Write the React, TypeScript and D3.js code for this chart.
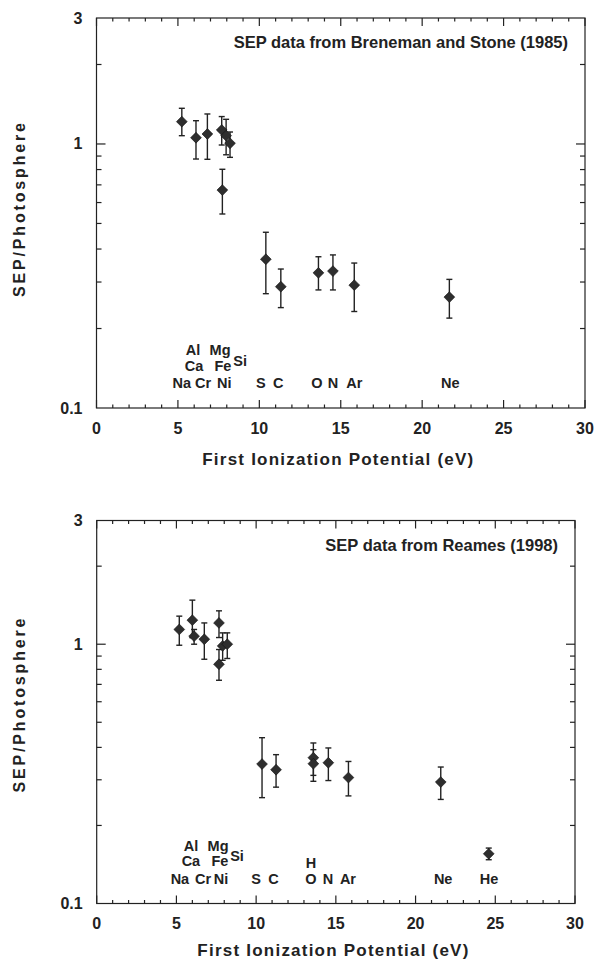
import React from "react";
import * as d3 from "d3";

// ---------- Data: Breneman & Stone (1985) ----------
const bsElements = ["Na", "Ca", "Cr", "Mg", "Fe", "Si", "Ni", "S", "C", "O", "N", "Ar", "Ne"];
const bsFip = [5.24, 6.11, 6.81, 7.69, 7.96, 8.2, 7.73, 10.4, 11.32, 13.63, 14.52, 15.83, 21.67];
const bsRatio = [1.215, 1.056, 1.091, 1.13, 1.075, 1.006, 0.669, 0.366, 0.288, 0.325, 0.33, 0.292, 0.263];
const bsLow = [1.075, 0.877, 0.875, 0.991, 0.91, 0.89, 0.543, 0.271, 0.24, 0.28, 0.28, 0.232, 0.219];
const bsHigh = [1.365, 1.225, 1.299, 1.27, 1.24, 1.11, 0.802, 0.463, 0.336, 0.374, 0.38, 0.354, 0.307];

// element annotations (name, FIP position, row)
const bsLabelNames = ["Al", "Mg", "Ca", "Fe", "Si", "Na", "Cr", "Ni", "S", "C", "O", "N", "Ar", "Ne"];
const bsLabelFip = [5.93, 7.59, 5.99, 7.76, 8.82, 5.24, 6.55, 7.84, 10.09, 11.16, 13.53, 14.52, 15.83, 21.73];
const bsLabelRow = [2, 2, 1, 1, 3, 0, 0, 0, 0, 0, 0, 0, 0, 0];

// ---------- Data: Reames (1998) ----------
const rmElements = ["Na", "Al", "Ca", "Cr", "Mg", "Ni", "Fe", "Si", "S", "C", "H", "O", "N", "Ar", "Ne", "He"];
const rmFip = [5.18, 6.0, 6.11, 6.75, 7.67, 7.67, 7.9, 8.19, 10.37, 11.25, 13.59, 13.59, 14.53, 15.79, 21.58, 24.59];
const rmRatio = [1.14, 1.238, 1.074, 1.045, 1.208, 0.837, 0.985, 1.0, 0.345, 0.328, 0.365, 0.346, 0.349, 0.306, 0.294, 0.1555];
const rmLow = [0.991, 1.06, 1.0, 0.875, 1.061, 0.726, 0.867, 0.881, 0.256, 0.281, 0.312, 0.296, 0.298, 0.26, 0.252, 0.1475];
const rmHigh = [1.283, 1.479, 1.14, 1.208, 1.345, 0.954, 1.106, 1.106, 0.436, 0.375, 0.416, 0.392, 0.398, 0.353, 0.336, 0.1636];

const rmLabelNames = ["Al", "Mg", "Ca", "Fe", "Si", "H", "Na", "Cr", "Ni", "S", "C", "O", "N", "Ar", "Ne", "He"];
const rmLabelFip = [5.91, 7.61, 5.91, 7.73, 8.8, 13.44, 5.22, 6.67, 7.8, 10.0, 11.09, 13.44, 14.51, 15.76, 21.73, 24.61];
const rmLabelRow = [2, 2, 1, 1, 3, 4, 0, 0, 0, 0, 0, 0, 0, 0, 0, 0];

// ---------- Axes ----------
const xDomain = [0, 30];
const yDomain = [0.1, 3];
const xMajorTicks = [0, 5, 10, 15, 20, 25, 30];
const xMinorTicks = d3.range(1, 30).filter((v) => v % 5 !== 0);
const yMajorTicks = [1];
const yMinorTicks = [0.2, 0.3, 0.4, 0.5, 0.6, 0.7, 0.8, 0.9, 2];
const yTickLabels = [
  { v: 3, t: "3" },
  { v: 1, t: "1" },
  { v: 0.1, t: "0.1" },
];

const titles = ["SEP data from Breneman and Stone (1985)", "SEP data from Reames (1998)"];
const xTitle = "First Ionization Potential (eV)";
const yTitle = "SEP/Photosphere";

const FONT = "'Liberation Sans', Arial, Helvetica, sans-serif";
const INK = "#222";
const MARK = "#2e2e2e";

// row pixel offsets above the bottom axis
const rowOffsets = [25, 42.5, 58, 47.5, 41];

type PanelProps = {
  box: { left: number; right: number; top: number; bottom: number };
  title: string;
  fip: number[];
  ratio: number[];
  low: number[];
  high: number[];
  labelNames: string[];
  labelFip: number[];
  labelRow: number[];
  xTitleOffset: number;
};

function Panel(p: PanelProps) {
  const { left, right, top, bottom } = p.box;
  const x = d3.scaleLinear().domain(xDomain).range([left, right]);
  const y = d3.scaleLog().domain(yDomain).range([bottom, top]);
  const diamond = (cx: number, cy: number, r: number) =>
    `M${cx},${cy - r}L${cx + r},${cy}L${cx},${cy + r}L${cx - r},${cy}Z`;
  const cap = 3;
  return (
    <g>
      {/* frame */}
      <rect x={left} y={top} width={right - left} height={bottom - top} fill="none" stroke={INK} strokeWidth={1.2} />
      {/* x ticks */}
      {xMajorTicks.map((v) => (
        <g key={"xM" + v}>
          <line x1={x(v)} x2={x(v)} y1={bottom} y2={bottom - 8} stroke={INK} strokeWidth={1.2} />
          <line x1={x(v)} x2={x(v)} y1={top} y2={top + 8} stroke={INK} strokeWidth={1.2} />
        </g>
      ))}
      {xMinorTicks.map((v) => (
        <g key={"xm" + v}>
          <line x1={x(v)} x2={x(v)} y1={bottom} y2={bottom - 3.5} stroke={INK} strokeWidth={1.2} />
          <line x1={x(v)} x2={x(v)} y1={top} y2={top + 3.5} stroke={INK} strokeWidth={1.2} />
        </g>
      ))}
      {/* y ticks */}
      {yMajorTicks.map((v) => (
        <g key={"yM" + v}>
          <line x1={left} x2={left + 9} y1={y(v)} y2={y(v)} stroke={INK} strokeWidth={1.2} />
          <line x1={right} x2={right - 9} y1={y(v)} y2={y(v)} stroke={INK} strokeWidth={1.2} />
        </g>
      ))}
      {yMinorTicks.map((v) => (
        <g key={"ym" + v}>
          <line x1={left} x2={left + 5} y1={y(v)} y2={y(v)} stroke={INK} strokeWidth={1.2} />
          <line x1={right} x2={right - 5} y1={y(v)} y2={y(v)} stroke={INK} strokeWidth={1.2} />
        </g>
      ))}
      {/* tick labels */}
      {xMajorTicks.map((v) => (
        <text key={"xl" + v} x={x(v)} y={bottom + 20} textAnchor="middle" dominantBaseline="central"
          fontFamily={FONT} fontWeight="bold" fontSize={16} fill={INK}>
          {v}
        </text>
      ))}
      {yTickLabels.map((d) => (
        <text key={"yl" + d.t} x={left - 14} y={y(d.v)} textAnchor="end" dominantBaseline="central"
          fontFamily={FONT} fontWeight="bold" fontSize={16} fill={INK}>
          {d.t}
        </text>
      ))}
      {/* axis titles */}
      <text x={(left + right) / 2 - 3} y={bottom + p.xTitleOffset} textAnchor="middle" dominantBaseline="central"
        fontFamily={FONT} fontWeight="bold" fontSize={17} fill={INK} textLength={271} lengthAdjust="spacing">
        {xTitle}
      </text>
      <text transform={`translate(19,${bottom - 198}) rotate(-90)`} textAnchor="middle" dominantBaseline="central"
        fontFamily={FONT} fontWeight="bold" fontSize={16} fill={INK} textLength={174} lengthAdjust="spacing">
        {yTitle}
      </text>
      {/* panel title */}
      <text x={right - 17} y={top + 24} textAnchor="end" dominantBaseline="central"
        fontFamily={FONT} fontWeight="bold" fontSize={16.5} fill={INK}>
        {p.title}
      </text>
      {/* element labels */}
      {p.labelNames.map((n, i) => (
        <text key={"el" + i} x={x(p.labelFip[i])} y={bottom - rowOffsets[p.labelRow[i]]} textAnchor="middle"
          dominantBaseline="central" fontFamily={FONT} fontWeight="bold" fontSize={14.5} fill={INK}>
          {n}
        </text>
      ))}
      {/* error bars */}
      {p.fip.map((v, i) => (
        <g key={"eb" + i} stroke={INK} strokeWidth={1.4}>
          <line x1={x(v)} x2={x(v)} y1={y(p.low[i])} y2={y(p.high[i])} />
          <line x1={x(v) - cap} x2={x(v) + cap} y1={y(p.low[i])} y2={y(p.low[i])} />
          <line x1={x(v) - cap} x2={x(v) + cap} y1={y(p.high[i])} y2={y(p.high[i])} />
        </g>
      ))}
      {/* markers */}
      {p.fip.map((v, i) => (
        <path key={"mk" + i} d={diamond(x(v), y(p.ratio[i]), 5.4)} fill={MARK} stroke="#111" strokeWidth={0.6} />
      ))}
    </g>
  );
}

export default function App() {
  return (
    <svg width={594} height={962} style={{ position: "absolute", left: 0, top: 0, background: "#fff" }}>
      <rect x={0} y={0} width={594} height={962} fill="#fff" />
      <Panel
        box={{ left: 96.5, right: 585, top: 18, bottom: 408 }}
        title={titles[0]}
        fip={bsFip}
        ratio={bsRatio}
        low={bsLow}
        high={bsHigh}
        labelNames={bsLabelNames}
        labelFip={bsLabelFip}
        labelRow={bsLabelRow}
        xTitleOffset={51}
      />
      <Panel
        box={{ left: 96.7, right: 575, top: 520.5, bottom: 903.5 }}
        title={titles[1]}
        fip={rmFip}
        ratio={rmRatio}
        low={rmLow}
        high={rmHigh}
        labelNames={rmLabelNames}
        labelFip={rmLabelFip}
        labelRow={rmLabelRow}
        xTitleOffset={47}
      />
    </svg>
  );
}
